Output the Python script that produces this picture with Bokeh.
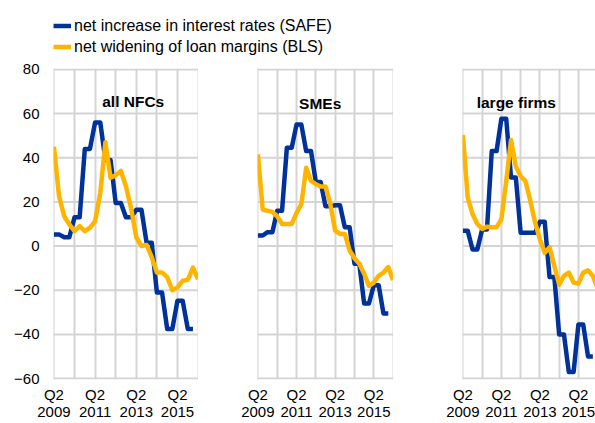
from bokeh.plotting import figure
from bokeh.models import Range1d, FixedTicker, Legend, LegendItem
from bokeh.layouts import column, row
from bokeh.embed import file_html
from bokeh.resources import INLINE
from bokeh.core.properties import value

# ---------------- data ----------------
quarter_idx = list(range(29))          # Q2 2009 ... Q2 2016
x_tick_pos = [0, 8, 16, 24]
x_tick_labels = ["Q2\n2009", "Q2\n2011", "Q2\n2013", "Q2\n2015"]
x_grid_pos = [0, 4, 8, 12, 16, 20, 24, 28]
y_ticks = [-60, -40, -20, 0, 20, 40, 60, 80]

series_names = ["net increase in interest rates (SAFE)",
                "net widening of loan margins (BLS)"]
panel_titles = ["all NFCs", "SMEs", "large firms"]

safe_all = [5.3, 5.3, 4, 4, 13, 13, 44, 44, 56, 56, 39, 39, 19.5, 19.5,
            13, 13, 16.5, 16.5, 1.5, 1.5, -21, -21, -37.5, -37.5,
            -24.7, -24.7, -37.5, -37.5]
bls_all = [45, 22.5, 13.5, 9.8, 6.8, 9, 6.8, 8.3, 11.3, 24, 47, 31, 32, 34,
           27, 17, 4, 0, 0.5, -5, -12, -12, -14, -20, -18.7, -15.7, -15.3,
           -9.7, -15]

safe_sme = [4.8, 4.8, 6.3, 6.3, 16, 16, 44.5, 44.5, 55, 55, 43, 43, 29, 29,
            18, 18, 18.5, 18.5, 8.5, 8.5, -8, -8, -26, -26, -17.7, -17.7,
            -30.5, -30.5]
bls_sme = [41.5, 16.5, 16, 15.5, 13.5, 10, 10, 10, 15, 19, 35.5, 29.5, 28,
           27, 27, 19, 7, 5.5, 5.5, -2, -5.5, -8, -12.5, -18, -16.5, -13.5,
           -12, -9.5, -15.5]

safe_large = [7, 7, -1.5, -1.5, 7.5, 7.5, 43, 43, 57.7, 57.7, 31, 31, 6, 6,
              6, 6, 11, 11, -14, -14, -40, -40, -57, -57, -35.5, -35.5,
              -50, -50]
bls_large = [50.3, 22, 14.5, 10, 7.8, 8.8, 8.5, 8.5, 12.2, 29.4, 48, 36,
             31.6, 29.4, 20.5, 10.7, 3, -3, -0.5, -9, -17.5, -13.5, -12,
             -16.5, -17, -12, -11, -13.5, -19]

# ---------------- style ----------------
BLUE = "#003299"
YELLOW = "#FFB400"
GRID = "#d4d4d4"
FONT = "Liberation Sans"
LW = 4.5

TOTAL_W = 595
LEG_H = 58
ROW_H = 423 - LEG_H


def make_panel(title, tx, ty, safe, bls, width, mbl, x_start, x_end, show_y):
    p = figure(width=width, height=ROW_H,
               x_range=Range1d(x_start, x_end), y_range=Range1d(-60.4, 80.4),
               toolbar_location=None, output_backend="svg",
               min_border_left=mbl, min_border_right=0,
               min_border_top=10, min_border_bottom=38)
    p.outline_line_color = None
    p.background_fill_color = "white"
    p.border_fill_color = "white"
    p.xgrid.ticker = FixedTicker(ticks=x_grid_pos)
    p.xgrid.grid_line_color = GRID
    p.xgrid.grid_line_width = 2
    p.ygrid.visible = False
    # horizontal grid lines as ordinary line glyphs, drawn before the series
    p.multi_line(xs=[[x_start, x_end] for _ in y_ticks],
                 ys=[[t, t] for t in y_ticks],
                 line_color=GRID, line_width=2)

    ax = p.xaxis[0]
    ax.ticker = FixedTicker(ticks=x_tick_pos)
    ax.major_label_overrides = dict(zip(x_tick_pos, x_tick_labels))
    ax.axis_line_color = None
    ax.major_tick_line_color = None
    ax.minor_tick_line_color = None
    ax.major_tick_out = 0
    ax.major_label_standoff = 6
    ax.major_label_text_font = FONT
    ax.major_label_text_font_size = "15px"
    ax.major_label_text_line_height = 1.05
    ax.major_label_text_color = "black"

    ay = p.yaxis[0]
    if show_y:
        ay.ticker = FixedTicker(ticks=y_ticks)
        ay.axis_line_color = None
        ay.major_tick_line_color = None
        ay.minor_tick_line_color = None
        ay.major_tick_out = 0
        ay.major_label_standoff = 14
        ay.major_label_text_font = FONT
        ay.major_label_text_font_size = "15px"
        ay.major_label_text_color = "black"
    else:
        ay.visible = False

    p.line(quarter_idx[:len(safe)], safe, line_color=BLUE, line_width=LW,
           line_join="round")
    p.line(quarter_idx[:len(bls)], bls, line_color=YELLOW, line_width=LW,
           line_join="round")
    p.text(x=[tx], y=[ty], text=[title], text_font=value(FONT),
           text_font_style="bold", text_font_size="15.5px",
           text_align="center", text_baseline="middle", text_color="black")
    return p


# panel frames: page x 53..198 ; 257..393 ; 462..595 (clipped at window edge)
w1 = 198
w2 = 393 - 198
w3 = TOTAL_W - w1 - w2
p1 = make_panel(panel_titles[0], 15.4, 65.5, safe_all, bls_all,
                w1, 53, -0.08, 28.08, True)
p2 = make_panel(panel_titles[1], 12.9, 64.5, safe_sme, bls_sme,
                w2, 257 - 198, -0.08, 28.08, False)
p3 = make_panel(panel_titles[2], 11.1, 65.0, safe_large, bls_large,
                w3, 462 - 393, -0.08, 27.55, False)

# legend figure (series drawn out of view, only used for the legend glyphs)
lg = figure(width=TOTAL_W, height=LEG_H, x_range=Range1d(100, 101),
            y_range=Range1d(100, 101), toolbar_location=None,
            output_backend="svg", min_border=0)
lg.axis.visible = False
lg.grid.visible = False
lg.outline_line_color = None
r1 = lg.line(quarter_idx[:len(safe_all)], safe_all, line_color=BLUE,
             line_width=LW)
r2 = lg.line(quarter_idx, bls_all, line_color=YELLOW, line_width=LW)
legend = Legend(items=[LegendItem(label=series_names[0], renderers=[r1]),
                       LegendItem(label=series_names[1], renderers=[r2])],
                location=(53, LEG_H - 15 - 42),
                orientation="vertical", padding=0, margin=0, spacing=0,
                glyph_width=18, glyph_height=21, label_height=21,
                label_standoff=3, border_line_color=None,
                background_fill_alpha=0,
                label_text_font=FONT, label_text_font_size="16px",
                label_text_color="black")
lg.add_layout(legend, "center")

layout = column(lg, row(p1, p2, p3))
open("out.html", "w").write(file_html(layout, INLINE))
